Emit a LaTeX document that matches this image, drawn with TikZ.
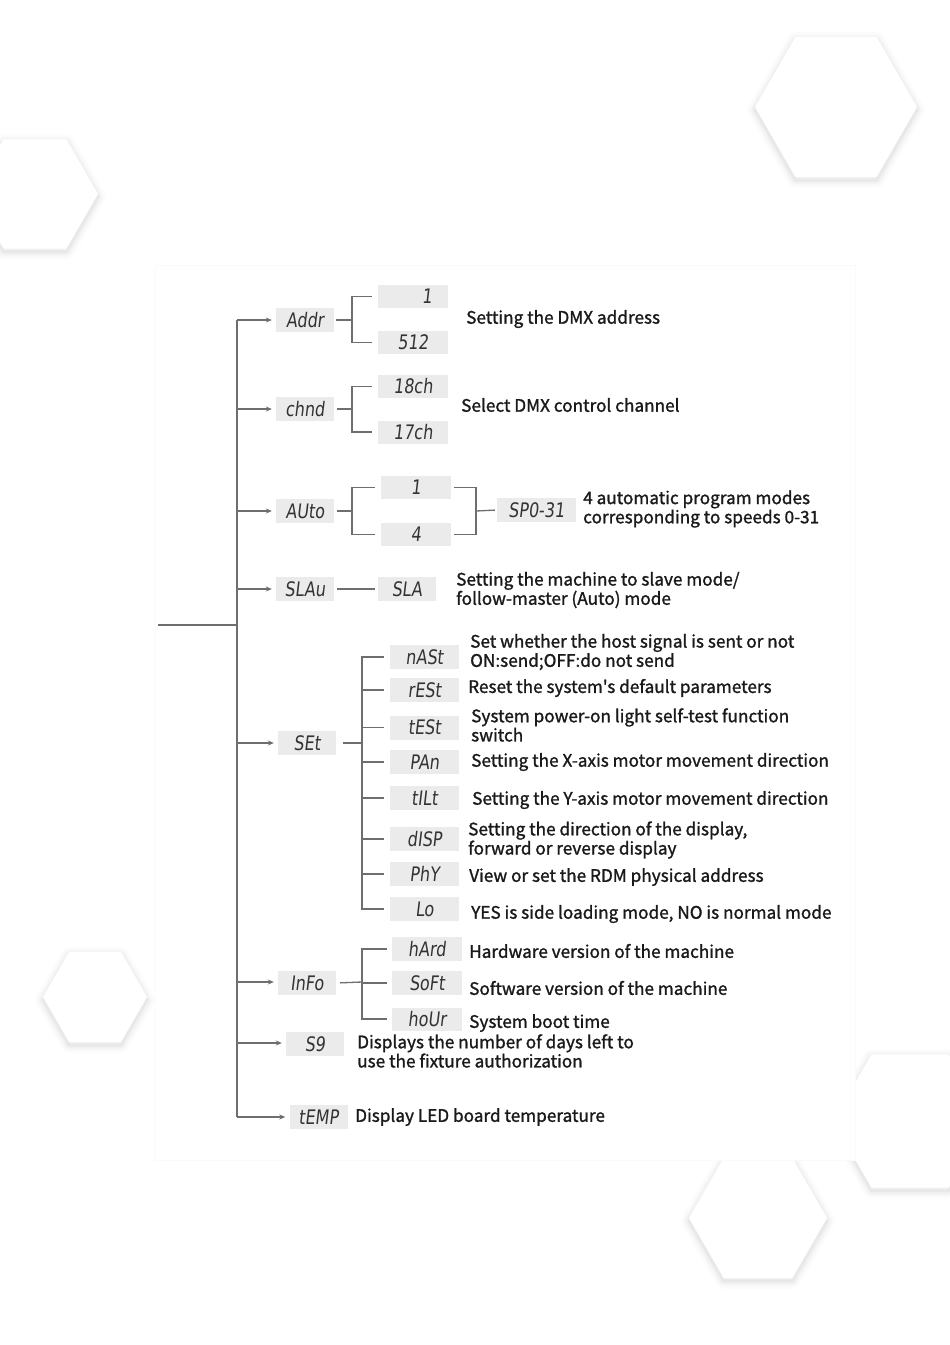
\documentclass[tikz,border=0pt]{standalone}
\usepackage{fontspec}
\usetikzlibrary{arrows.meta,calc}
\newfontfamily\descfont{Noto Sans CJK SC}[FakeBold=1.3]
\newfontfamily\lcdfont{DejaVu Sans}[FakeSlant=0.12,FakeStretch=0.8]
\definecolor{linegray}{HTML}{6E6E6E}
\definecolor{boxgray}{HTML}{EBEBEB}
\definecolor{lcdtext}{HTML}{333333}
\definecolor{txt}{HTML}{1A1A1A}
\newcommand\hexpath[3]{({#1+#3},{#2}) -- ({#1+0.5*#3},{#2+0.866*#3}) -- ({#1-0.5*#3},{#2+0.866*#3}) -- ({#1-#3},{#2}) -- ({#1-0.5*#3},{#2-0.866*#3}) -- ({#1+0.5*#3},{#2-0.866*#3}) -- cycle}
\begin{document}
\begin{tikzpicture}[x=1pt,y=-1pt,
  ln/.style={draw=linegray, line width=1.3pt},
  arr/.style={ln, -{Stealth[length=6pt,width=5pt]}, shorten >=4pt},
  lcd/.style={fill=boxgray, inner sep=0pt, minimum width=58pt, minimum height=24pt, font=\lcdfont\fontsize{20}{20}\selectfont, text=lcdtext},
  sub/.style={lcd, minimum width=70pt, minimum height=23pt},
  desc/.style={anchor=west, inner sep=0pt, align=left, font=\descfont\fontsize{17.2}{19.2}\selectfont, text=txt},
  hexshadow/.style={draw=black, line join=round}
]
\useasboundingbox (0,0) rectangle (950,1345);
\fill[white] (0,0) rectangle (950,1345);
% background hexagons
\foreach \cx/\cy/\r in {836/107/81, 35/194/63, 95/997/52, 910/1121/77, 758/1218/69}{
  \begin{scope}[yshift=-3pt]
  \foreach \w/\o in {16/0.012, 11/0.018, 7/0.025, 3/0.035}{
    \draw[hexshadow, line width=\w pt, opacity=\o] \hexpath{\cx}{\cy}{\r};
  }
  \end{scope}
  \fill[white] \hexpath{\cx}{\cy}{\r};
}
% panel
\fill[white, draw=black!2] (155,265) rectangle (855,1160);

% trunk coordinates
\coordinate (tAddr) at (237,320);
\coordinate (tChnd) at (237,409);
\coordinate (tAuto) at (237,511);
\coordinate (tSlav) at (237,589);
\coordinate (tIn) at (237,625);
\coordinate (tSet) at (237,743);
\coordinate (tInfo) at (237,982);
\coordinate (tS9) at (237,1043);
\coordinate (tTemp) at (237,1117);
\coordinate (root) at (158,625);

% main nodes
\node[lcd] (addr) at (305,320) {Addr};
\node[lcd] (chnd) at (305,409) {chnd};
\node[lcd] (auto) at (305,511) {AUto};
\node[lcd] (slav) at (305,589) {SLAu};
\node[lcd] (set) at (307,743) {SEt};
\node[lcd] (info) at (307,983) {InFo};
\node[lcd] (s9) at (315,1044) {S9};
\node[lcd] (temp) at (318.5,1117) {tEMP};

% trunk
\draw[ln] (tAddr) -- (tTemp);
\draw[ln] (root) -- (tIn);
\foreach \a/\b in {tAddr/addr, tChnd/chnd, tAuto/auto, tSlav/slav, tSet/set, tInfo/info, tS9/s9, tTemp/temp}
  \draw[arr] (\a) -- (\b.west |- \a);

% Addr
\node[sub] (a1) at (413,296.5) {\hspace*{28pt}1};
\node[sub] (a512) at (413,342.5) {512};
\coordinate (jAddr) at (352,320);
\draw[ln, shorten <=2pt] (addr.east) -- (jAddr);
\draw[ln] ([xshift=-6pt]a1.west) -| (jAddr) |- ([xshift=-6pt]a512.west);
\node[desc] (dAddr) at (466,319) {Setting the DMX address};

% chnd
\node[sub] (c18) at (413,386.5) {18ch};
\node[sub] (c17) at (413,432) {17ch};
\coordinate (jChnd) at (352,409);
\draw[ln, shorten <=3pt] (chnd.east) -- (jChnd);
\draw[ln] ([xshift=-6pt]c18.west) -| (jChnd) |- ([xshift=-6pt]c17.west);
\node[desc] (dChnd) at (461,405) {Select DMX control channel};

% Auto
\node[sub] (u1) at (416,487.5) {1};
\node[sub] (u4) at (416,534.5) {4};
\node[lcd, minimum width=79pt] (sp) at (536.5,510) {SP0-31};
\coordinate (jAuto) at (352,511);
\coordinate (kAuto) at (476,511);
\draw[ln, shorten <=3pt] (auto.east) -- (jAuto);
\draw[ln] ([xshift=-6pt]u1.west) -| (jAuto) |- ([xshift=-6pt]u4.west);
\draw[ln] ([xshift=3pt]u1.east) -| (kAuto) |- ([xshift=3pt]u4.east);
\draw[ln, shorten >=2pt] (kAuto) -- (sp.west);
\node[desc] (dAuto) at (583,509) {4 automatic program modes\\corresponding to speeds 0-31};

% SLAv
\node[lcd] (sla) at (407,589) {SLA};
\draw[ln, shorten <=3pt, shorten >=3pt] (slav) -- (sla);
\node[desc] (dSlav) at (456,590) {Setting the machine to slave mode/\\follow-master (Auto) mode};

% SET
\coordinate (jSet) at (362,743);
\draw[ln, shorten <=7pt] (set.east) -- (jSet);
\foreach \n/\t/\y in {mast/nASt/657, rest/rESt/690, test/tESt/727.5, pan/PAn/762, tilt/tILt/798, disp/dISP/839, phy/PhY/874, lo/Lo/909}{
  \node[sub, minimum width=69pt, minimum height=24pt] (\n) at (424.5,\y) {\t};
}
\draw[ln] ([xshift=-6pt]mast.west) -| (jSet) |- ([xshift=-6pt]lo.west);
\foreach \n in {rest,test,pan,tilt,disp,phy}
  \draw[ln] (jSet |- \n.west) -- ([xshift=-6pt]\n.west);
\node[desc] at (470,652) {Set whether the host signal is sent or not\\ON:send;OFF:do not send};
\node[desc] at (468,688) {Reset the system's default parameters};
\node[desc] at (471,725) {System power-on light self-test function\\switch};
\node[desc] at (471,762) {Setting the X-axis motor movement direction};
\node[desc] at (472,800) {Setting the Y-axis motor movement direction};
\node[desc] at (468,840) {Setting the direction of the display,\\forward or reverse display};
\node[desc] at (469,877) {View or set the RDM physical address};
\node[desc] at (471,914) {YES is side loading mode, NO is normal mode};

% Info
\coordinate (jInfo) at (362,982);
\node[sub, minimum height=24pt] (hard) at (427,949) {hArd};
\node[sub, minimum height=24pt] (soft) at (427,983) {SoFt};
\node[sub, minimum height=23pt] (hour) at (427,1019) {hoUr};
\draw[ln, shorten <=4pt] (info.east) -- (jInfo);
\draw[ln] ([xshift=-5pt]hard.west) -| (jInfo) |- ([xshift=-5pt]hour.west);
\draw[ln] (jInfo |- soft.west) -- ([xshift=-5pt]soft.west);
\node[desc] at (469,951) {Hardware version of the machine};
\node[desc] at (469,988) {Software version of the machine};
\node[desc] at (469,1023) {System boot time};

% S9 and tEMP
\node[desc] at (357,1051) {Displays the number of days left to\\use the fixture authorization};
\node[desc] at (355,1117) {Display LED board temperature};
\end{tikzpicture}
\end{document}
